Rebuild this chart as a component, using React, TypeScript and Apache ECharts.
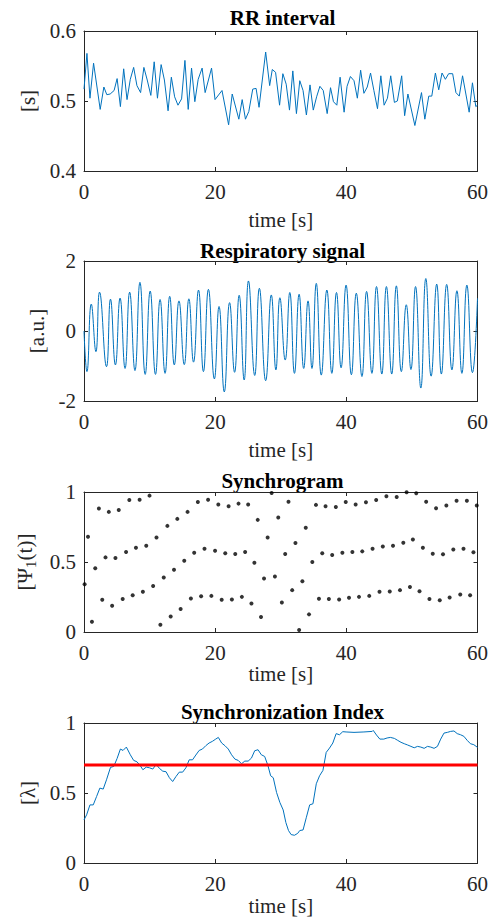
import React, { useEffect, useRef } from "react";
import * as echarts from "echarts";

// ---------- Data ----------
const xTicks = [0, 20, 40, 60];

const rrTime = [0, 0.45, 0.91, 1.46, 2.47, 3.03, 3.48, 3.99, 4.59, 5.05, 5.55, 6.05, 6.56, 7.06, 7.57, 8.07, 8.63, 9.13, 9.64, 10.19, 10.7, 11.2, 11.76, 12.26, 12.82, 13.32, 13.82, 14.33, 14.88, 15.39, 15.89, 16.4, 16.9, 17.41, 18.01, 18.47, 19.45, 19.98, 21.04, 22.05, 22.6, 23.61, 24.12, 24.62, 25.13, 25.73, 26.24, 26.69, 27.7, 28.31, 28.71, 29.21, 29.82, 30.32, 30.83, 31.33, 31.84, 32.39, 32.9, 33.4, 33.91, 34.46, 34.96, 35.47, 35.97, 36.48, 37.08, 37.59, 38.04, 38.55, 39.05, 39.66, 40.11, 40.62, 41.17, 41.68, 42.18, 42.68, 43.19, 43.69, 44.2, 44.75, 45.26, 45.76, 46.27, 46.77, 47.33, 47.78, 48.44, 48.89, 49.39, 50.45, 51.46, 51.97, 52.57, 53.03, 53.58, 54.09, 54.59, 55.1, 55.6, 56.21, 56.71, 57.22, 57.72, 58.73, 59.23, 59.74, 60];
const rrValue = [0.517, 0.568, 0.504, 0.554, 0.488, 0.52, 0.509, 0.51, 0.515, 0.532, 0.492, 0.546, 0.502, 0.531, 0.548, 0.522, 0.512, 0.548, 0.53, 0.508, 0.556, 0.504, 0.552, 0.53, 0.486, 0.534, 0.506, 0.494, 0.503, 0.558, 0.488, 0.547, 0.499, 0.531, 0.547, 0.512, 0.547, 0.502, 0.515, 0.466, 0.51, 0.474, 0.502, 0.474, 0.485, 0.517, 0.518, 0.491, 0.57, 0.522, 0.545, 0.541, 0.494, 0.539, 0.524, 0.487, 0.543, 0.482, 0.529, 0.515, 0.48, 0.523, 0.487, 0.506, 0.521, 0.515, 0.482, 0.519, 0.499, 0.494, 0.534, 0.484, 0.521, 0.535, 0.529, 0.504, 0.544, 0.511, 0.52, 0.54, 0.515, 0.489, 0.536, 0.494, 0.504, 0.536, 0.498, 0.5, 0.536, 0.479, 0.51, 0.465, 0.512, 0.474, 0.507, 0.507, 0.54, 0.516, 0.54, 0.531, 0.539, 0.539, 0.512, 0.507, 0.536, 0.484, 0.526, 0.492, 0.494];

// respiratory signal: turning points (peaks / troughs)
const respTime = [0, 0.45, 1.11, 1.82, 2.37, 3.43, 4.04, 4.79, 5.5, 6.26, 6.96, 7.77, 8.53, 9.33, 10.09, 10.9, 11.6, 12.36, 13.07, 13.77, 14.48, 15.29, 15.99, 16.7, 17.46, 18.21, 18.97, 19.88, 20.59, 21.39, 22.2, 22.96, 23.66, 24.42, 25.08, 26.03, 26.74, 27.7, 28.56, 29.26, 29.87, 30.68, 31.38, 32.09, 32.8, 33.5, 34.16, 34.76, 35.42, 36.18, 37.03, 37.79, 38.5, 39.2, 39.96, 40.77, 41.52, 42.38, 43.09, 43.9, 44.6, 45.41, 46.11, 46.92, 47.63, 48.39, 49.14, 49.85, 50.55, 51.36, 52.12, 52.93, 53.78, 54.49, 55.3, 56.1, 56.86, 57.62, 58.38, 59.23, 60];
const respValue = [0, -1.16, 0.77, -0.59, 1.11, -1.02, 0.91, -0.97, 0.94, -1.07, 1.11, -1.13, 1.39, -1.24, 1.14, -1.24, 0.9, -1.21, 0.99, -0.97, 0.86, -0.96, 0.92, -0.89, 1.17, -1.16, 1.19, -1.37, 0.7, -1.74, 0.81, -1.18, 1.02, -1.4, 1.43, -1.27, 1.22, -1.42, 1.03, -1.11, 0.95, -0.83, 1.1, -1.21, 1.05, -1.07, 0.86, -1.07, 1.36, -1.26, 1.17, -1.21, 1.1, -1.05, 1.31, -1.25, 1.08, -1.3, 1.13, -1.21, 1.27, -1.23, 1.27, -1.23, 1.29, -1.16, 0.75, -1.1, 1.27, -1.63, 1.5, -1.29, 1.34, -1.23, 1.33, -1.11, 1.15, -1.21, 1.31, -1.19, 0.93];

const syncTime = [0.1, 0.61, 1.21, 1.72, 2.27, 2.78, 3.28, 3.78, 4.29, 4.79, 5.3, 5.9, 6.41, 6.91, 7.42, 7.92, 8.48, 8.98, 9.49, 9.99, 10.54, 11.05, 11.65, 12.16, 12.71, 13.22, 13.72, 14.23, 14.73, 15.29, 15.79, 16.3, 16.8, 17.36, 17.86, 18.37, 18.92, 19.42, 19.98, 20.48, 20.99, 21.54, 22.05, 22.55, 23.06, 23.56, 24.07, 24.57, 25.03, 25.53, 25.98, 26.49, 26.99, 27.45, 28.0, 28.61, 29.11, 29.62, 30.17, 30.68, 31.18, 31.74, 32.24, 32.8, 33.3, 33.81, 34.31, 34.81, 35.37, 35.82, 36.33, 36.83, 37.34, 37.84, 38.4, 38.9, 39.4, 39.91, 40.41, 40.92, 41.42, 41.93, 42.43, 42.99, 43.49, 44.0, 44.55, 45.06, 45.56, 46.11, 46.62, 47.12, 47.68, 48.18, 48.69, 49.19, 49.7, 50.15, 50.66, 51.16, 51.67, 52.17, 52.67, 53.18, 53.68, 54.24, 54.74, 55.25, 55.75, 56.31, 56.81, 57.37, 57.87, 58.38, 58.88, 59.38, 59.89];
const syncPhase = [0.341, 0.68, 0.073, 0.455, 0.882, 0.23, 0.533, 0.858, 0.187, 0.528, 0.872, 0.235, 0.571, 0.943, 0.263, 0.602, 0.945, 0.287, 0.616, 0.974, 0.329, 0.675, 0.052, 0.389, 0.758, 0.111, 0.445, 0.808, 0.164, 0.509, 0.858, 0.239, 0.566, 0.929, 0.256, 0.595, 0.945, 0.258, 0.581, 0.91, 0.23, 0.562, 0.898, 0.232, 0.557, 0.917, 0.251, 0.571, 0.91, 0.204, 0.495, 0.801, 0.107, 0.382, 0.675, 0.993, 0.396, 0.818, 0.211, 0.557, 0.931, 0.299, 0.635, 0.014, 0.363, 0.744, 0.126, 0.5, 0.908, 0.237, 0.562, 0.898, 0.235, 0.55, 0.893, 0.232, 0.566, 0.929, 0.244, 0.571, 0.91, 0.251, 0.576, 0.927, 0.258, 0.595, 0.943, 0.287, 0.611, 0.969, 0.289, 0.616, 0.964, 0.299, 0.637, 0.998, 0.322, 0.661, 0.991, 0.291, 0.602, 0.931, 0.235, 0.559, 0.884, 0.227, 0.555, 0.903, 0.246, 0.59, 0.938, 0.268, 0.595, 0.938, 0.263, 0.569, 0.903];

const indexTime = [0, 0.4, 0.91, 1.41, 1.92, 2.42, 2.93, 3.43, 4.04, 4.54, 5.05, 5.55, 5.95, 6.46, 7.06, 7.57, 8.07, 8.58, 8.98, 9.49, 9.99, 10.49, 11.0, 11.5, 12.01, 12.51, 13.02, 13.52, 14.03, 14.53, 15.04, 15.54, 16.04, 16.55, 17.05, 17.56, 18.06, 18.57, 19.07, 19.58, 20.08, 20.48, 20.99, 21.49, 22.0, 22.5, 23.01, 23.51, 24.02, 24.52, 25.03, 25.53, 26.03, 26.54, 27.04, 27.55, 28.05, 28.46, 28.86, 29.36, 29.87, 30.37, 30.78, 31.18, 31.58, 32.09, 32.59, 32.9, 33.4, 33.91, 34.41, 34.91, 35.42, 35.92, 36.43, 36.93, 37.44, 37.94, 38.45, 38.95, 39.46, 39.96, 41.17, 42.68, 43.95, 44.1, 44.6, 45.11, 45.71, 46.22, 46.72, 47.33, 47.83, 48.34, 48.84, 49.34, 49.85, 50.35, 50.86, 51.36, 51.87, 52.37, 52.88, 53.38, 53.89, 54.39, 54.89, 55.4, 55.9, 56.41, 56.91, 57.42, 57.92, 58.43, 58.93, 59.44, 60];
const indexValue = [0.308, 0.344, 0.415, 0.415, 0.475, 0.535, 0.528, 0.594, 0.683, 0.69, 0.747, 0.814, 0.804, 0.828, 0.773, 0.733, 0.723, 0.695, 0.666, 0.685, 0.68, 0.671, 0.704, 0.676, 0.656, 0.652, 0.609, 0.582, 0.618, 0.649, 0.649, 0.68, 0.737, 0.737, 0.771, 0.804, 0.814, 0.838, 0.857, 0.869, 0.885, 0.897, 0.857, 0.838, 0.814, 0.773, 0.742, 0.733, 0.709, 0.728, 0.728, 0.749, 0.802, 0.809, 0.773, 0.761, 0.695, 0.623, 0.609, 0.504, 0.432, 0.379, 0.289, 0.232, 0.203, 0.198, 0.212, 0.232, 0.236, 0.327, 0.415, 0.423, 0.566, 0.623, 0.661, 0.79, 0.821, 0.857, 0.924, 0.916, 0.938, 0.936, 0.933, 0.936, 0.94, 0.947, 0.914, 0.885, 0.885, 0.893, 0.897, 0.89, 0.876, 0.862, 0.852, 0.843, 0.833, 0.823, 0.833, 0.828, 0.819, 0.833, 0.828, 0.819, 0.833, 0.885, 0.928, 0.933, 0.94, 0.943, 0.924, 0.916, 0.905, 0.876, 0.852, 0.845, 0.826];

const threshold = 0.7;
const titles = ["RR interval", "Respiratory signal", "Synchrogram", "Synchronization Index"];
const yNames = ["[s]", "[a.u.]", "[Ψ{sub|1}(t)]", "[λ]"];
const xName = "time [s]";

// ---------- Layout / style ----------
const FONT = "Liberation Serif";
const AX = "#262626";
const BLUE = "#0072BD";
const gridTops = [31, 261, 492, 723];
const gridH = 140;
const gridLeft = 84;
const gridW = 397;
const titleY = [18, 251, 481, 712];
const yRanges = [
  { min: 0.4, max: 0.6, interval: 0.1 },
  { min: -2, max: 2, interval: 2 },
  { min: 0, max: 1, interval: 0.5 },
  { min: 0, max: 1, interval: 0.5 },
];
const yNameGaps = [42, 32, 44, 44];
const xNameGaps = [38, 38, 31, 32];

const zip = (a: number[], b: number[]) => a.map((t, i) => [t, b[i]]);

export default function App() {
  const ref = useRef<HTMLDivElement>(null);
  useEffect(() => {
    if (!ref.current) return;
    const chart = echarts.init(ref.current, null, { renderer: "svg" });
    const grid = gridTops.map((top) => ({ left: gridLeft, top, width: gridW, height: gridH, containLabel: false }));
    const xAxis: any[] = [];
    const yAxis: any[] = [];
    gridTops.forEach((_, i) => {
      const common = {
        type: "value",
        gridIndex: i,
        min: 0,
        max: 60,
        interval: 20,
        splitLine: { show: false },
        axisLine: { show: true, onZero: false, lineStyle: { color: AX, width: 1 } },
        axisTick: { show: true, inside: true, length: 4, lineStyle: { color: AX, width: 1 } },
      };
      xAxis.push({
        ...common,
        position: "bottom",
        name: xName,
        nameLocation: "middle",
        nameGap: xNameGaps[i],
        nameTextStyle: { fontFamily: FONT, fontSize: 21, color: AX },
        axisLabel: { fontFamily: FONT, fontSize: 21, color: AX, margin: 10 },
      });
      xAxis.push({ ...common, position: "top", axisLabel: { show: false } });
      const yc = {
        type: "value",
        gridIndex: i,
        ...yRanges[i],
        splitLine: { show: false },
        axisLine: { show: true, onZero: false, lineStyle: { color: AX, width: 1 } },
        axisTick: { show: true, inside: true, length: 4, lineStyle: { color: AX, width: 1 } },
      };
      yAxis.push({
        ...yc,
        position: "left",
        name: yNames[i],
        nameLocation: "middle",
        nameGap: yNameGaps[i],
        nameTextStyle: {
          fontFamily: FONT,
          fontSize: 21,
          color: AX,
          rich: { sub: { fontFamily: FONT, fontSize: 15, color: AX, padding: [12, 0, 0, 0] } },
        },
        axisLabel: { fontFamily: FONT, fontSize: 21, color: AX, margin: 8 },
      });
      yAxis.push({ ...yc, position: "right", axisLabel: { show: false } });
    });

    const option: any = {
      animation: false,
      backgroundColor: "#ffffff",
      textStyle: { fontFamily: FONT },
      grid,
      xAxis,
      yAxis,
      graphic: titles.map((t, i) => ({
        type: "text",
        x: gridLeft + gridW / 2,
        y: titleY[i],
        style: {
          text: t,
          fontFamily: FONT,
          fontSize: 21,
          fontWeight: "bold",
          fill: "#000000",
          align: "center",
          verticalAlign: "middle",
        },
      })),
      series: [
        {
          type: "line",
          xAxisIndex: 0,
          yAxisIndex: 0,
          data: zip(rrTime, rrValue),
          showSymbol: false,
          lineStyle: { color: BLUE, width: 1 },
        },
        {
          type: "line",
          xAxisIndex: 2,
          yAxisIndex: 2,
          data: zip(respTime, respValue),
          smooth: 0.5,
          showSymbol: false,
          lineStyle: { color: BLUE, width: 1 },
        },
        {
          type: "scatter",
          xAxisIndex: 4,
          yAxisIndex: 4,
          data: zip(syncTime, syncPhase),
          symbol: "circle",
          symbolSize: 4,
          itemStyle: { color: "#000000" },
        },
        {
          type: "line",
          xAxisIndex: 6,
          yAxisIndex: 6,
          data: zip(indexTime, indexValue),
          showSymbol: false,
          lineStyle: { color: BLUE, width: 1 },
        },
        {
          type: "line",
          xAxisIndex: 6,
          yAxisIndex: 6,
          data: [[0, threshold], [60, threshold]],
          showSymbol: false,
          lineStyle: { color: "#ff0000", width: 3 },
        },
      ],
    };
    chart.setOption(option);
    return () => chart.dispose();
  }, []);
  return <div ref={ref} style={{ position: "absolute", left: 0, top: 0, width: 491, height: 924 }} />;
}
